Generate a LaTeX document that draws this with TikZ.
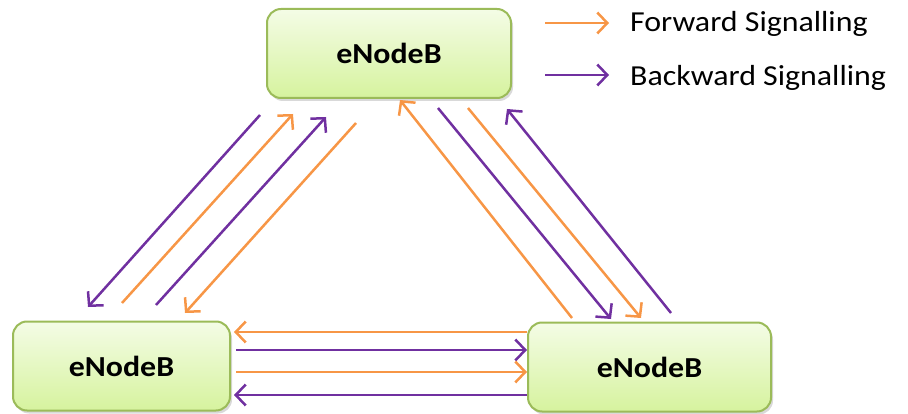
\documentclass[tikz,border=0pt]{standalone}
\usepackage{fontspec}
\setmainfont{Carlito}[FakeStretch=1.1]
\usetikzlibrary{arrows.meta, shadows}
\definecolor{fwdO}{HTML}{F79646}
\definecolor{bwdP}{HTML}{7030A0}
\definecolor{edgeG}{HTML}{9BBB59}
\definecolor{topG}{HTML}{F4FCE6}
\definecolor{botG}{HTML}{D6F39E}

\begin{document}
\begin{tikzpicture}[x=1pt, y=-1pt,
   enb/.style={rectangle, rounded corners=14pt, draw=edgeG, line width=2pt,
               top color=topG, bottom color=botG, minimum height=89pt,
               font=\fontsize{29}{32}\selectfont\bfseries,
               drop shadow={shadow xshift=2pt, shadow yshift=-3pt, opacity=0.3}},
   sig/.style={line width=2.5pt, -{Straight Barb[length=10pt, width=21pt, line width=2.5pt]}},
   lgd/.style={anchor=base west, inner sep=0pt, font=\fontsize{29}{32}\selectfont}]
  \useasboundingbox (0,0) rectangle (908,414);
  % base stations
  \node[enb, minimum width=244pt] (enbT) at (389,53.5) {eNodeB};
  \node[enb, minimum width=217pt] (enbL) at (121.5,366) {eNodeB};
  \node[enb, minimum width=243pt] (enbR) at (649.5,367) {eNodeB};
  % slanted links: start / tip / colour
  \foreach \sx/\sy/\ex/\ey/\col [count=\i] in {%
    260/115/88/307/bwdP, 122/303/293/114/fwdO, 156/305/326/117/bwdP, 356/123/185/313/fwdO,%
    572/318/400/100/fwdO, 438/108/611/319/bwdP, 468/108/641/318/fwdO, 671/313/507/109/bwdP}{%
      \coordinate (s\i) at (\sx,\sy);
      \coordinate (e\i) at (\ex,\ey);
      \draw[sig, \col] (s\i) -- (e\i);
  }
  % bottom links
  \draw[sig, fwdO, shorten >=3pt] (enbR.west |- 0,332) -- (enbL.east |- 0,332);
  \draw[sig, bwdP, shorten <=5pt] (enbL.east |- 0,350) -- (enbR.west |- 0,350);
  \draw[sig, fwdO, shorten <=5pt] (enbL.east |- 0,372) -- (enbR.west |- 0,372);
  \draw[sig, bwdP, shorten >=3pt] (enbR.west |- 0,395) -- (enbL.east |- 0,395);
  % legend
  \coordinate (fwdA) at (545,23);
  \coordinate (fwdB) at (609,23);
  \coordinate (bwdA) at (545,75);
  \coordinate (bwdB) at (609,75);
  \draw[sig, fwdO] (fwdA) -- (fwdB);
  \draw[sig, bwdP] (bwdA) -- (bwdB);
  \node[lgd] (fwdT) at (630,32) {Forward Signalling};
  \node[lgd] (bwdT) at (630,86) {Backward Signalling};
\end{tikzpicture}
\end{document}
